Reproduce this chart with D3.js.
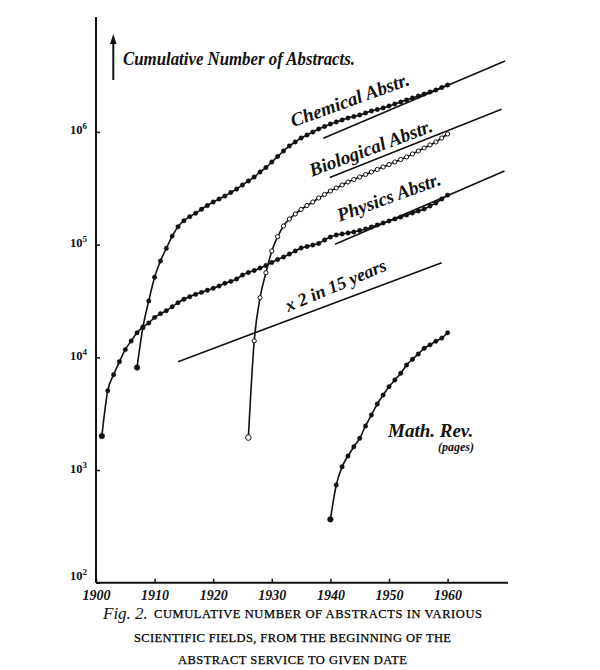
<!DOCTYPE html>
<html><head><meta charset="utf-8">
<script src="https://cdn.jsdelivr.net/npm/d3@7"></script>
<style>body{margin:0;background:#fff} svg{display:block}</style>
</head><body><svg id="c" width="600" height="670"></svg>
<script>
// ---------- DATA ----------
const yearTicks = [1900, 1910, 1920, 1930, 1940, 1950, 1960];
const valueTicks = [1e2, 1e3, 1e4, 1e5, 1e6];
const valueTickExponents = ["2", "3", "4", "5", "6"];

const physicsStart = 1901;
const physicsValues = [2000,5050,7000,9140,11700,13950,16500,18600,20150,22600,
  24400,25900,28100,30500,32700,34500,36200,37700,39300,41000,
  42900,45400,47200,49500,53700,56500,58900,62000,65200,69400,
  73800,77600,82500,87800,93300,96200,99200,102300,110000,116800,
  121700,124200,126800,129400,133400,137500,143300,149300,155500,162000,
  168800,175800,183100,190800,198700,207000,220000,234000,254000,275000];

const chemicalStart = 1907;
const chemicalValues = [8100,18300,31600,51300,71500,92700,119000,144000,163000,177000,
  190000,206000,222000,239000,254000,270000,290000,311000,338000,367000,
  398000,441000,483000,541000,605000,677000,750000,814000,883000,939000,
  998000,1061000,1117000,1175000,1224000,1275000,1328000,1369000,1413000,1472000,
  1533000,1580000,1630000,1698000,1769000,1842000,1919000,1999000,2082000,2169000,
  2260000,2354000,2477000,2608000];

const biologicalStart = 1926;
const biologicalValues = [1940,14000,33800,56300,87800,117500,146300,168800,186900,204900,
  222300,238800,259100,278400,299000,317800,337900,359300,378100,397900,
  418800,440900,464000,488300,513500,540700,569000,598800,636600,676800,
  719700,765200,813700,883000,958200];

const mathStart = 1940;
const mathValues = [365,736,1070,1331,1609,1911,2458,3076,3851,4629,
  5484,6289,7211,8544,9600,10700,12020,12900,13900,14800,16500];

// reference lines (year, value) endpoints
const chemicalRef = [[1938.8, 880000], [1969.8, 4250000]];
const biologicalRef = [[1939.9, 393000], [1969.2, 1590000]];
const physicsRef = [[1940.8, 100600], [1969.7, 450000]];
const doublingRef = [[1914.0, 9140], [1959.0, 69000]];

// ---------- DRAW ----------
const svg = d3.select("#c");
const x = d3.scaleLinear().domain([1900, 1970]).range([96, 506.2]);
const y = d3.scaleLog().domain([1e2, 1e7]).range([582.7, 19.2]);

const serif = "'Liberation Serif', 'DejaVu Serif', serif";

const toSeries = (start, vals) => vals.map((v, i) => ({year: start + i, v}));
const physics = toSeries(physicsStart, physicsValues);
const chemical = toSeries(chemicalStart, chemicalValues);
const biological = toSeries(biologicalStart, biologicalValues);
const maths = toSeries(mathStart, mathValues);

// axes
const yAxis = d3.axisLeft(y).tickValues(valueTicks).tickSizeInner(-4).tickSizeOuter(0).tickPadding(7)
  .tickFormat(() => "");
const gy = svg.append("g").attr("transform", "translate(96,0)").call(yAxis);
gy.select(".domain").remove();
gy.selectAll(".tick line").attr("stroke", "#111").attr("stroke-width", 1.5);
svg.append("line").attr("x1", 96).attr("x2", 96).attr("y1", 17).attr("y2", y(1e2))
  .attr("stroke", "#111").attr("stroke-width", 2);
gy.selectAll(".tick").each(function(d, i) {
  const t = d3.select(this).append("text")
    .attr("x", -9).attr("y", i === 0 ? -3 : 2)
    .attr("text-anchor", "end").attr("fill", "#111")
    .style("font-family", serif).style("font-size", "12.5px").style("font-weight", "bold");
  t.append("tspan").text("10");
  t.append("tspan").attr("dy", -5).style("font-size", "9px").text(valueTickExponents[i]);
});

const xAxis = d3.axisBottom(x).tickValues(yearTicks).tickSizeInner(-4).tickSizeOuter(0).tickPadding(7)
  .tickFormat(d3.format("d"));
const gx = svg.append("g").attr("transform", `translate(0,${y(1e2)})`).call(xAxis);
gx.select(".domain").attr("stroke", "#111").attr("stroke-width", 2)
  .attr("d", `M96,0H508`);
gx.selectAll(".tick line").attr("stroke", "#111").attr("stroke-width", 1.5);
gx.selectAll(".tick text").attr("fill", "#111")
  .style("font-family", serif).style("font-size", "14px").style("font-style", "italic").style("font-weight", "bold");

// reference lines
const refLine = d3.line().x(d => x(d[0])).y(d => y(d[1]));
[chemicalRef, biologicalRef, physicsRef, doublingRef].forEach(r => {
  svg.append("path").attr("d", refLine(r)).attr("fill", "none")
    .attr("stroke", "#111").attr("stroke-width", 1.6);
});

// curves
const curve = d3.line().x(d => x(d.year)).y(d => y(d.v)).curve(d3.curveMonotoneX);
function drawSeries(data, open) {
  svg.append("path").attr("d", curve(data)).attr("fill", "none")
    .attr("stroke", "#111").attr("stroke-width", 1.6);
  svg.append("g").selectAll("circle").data(data).join("circle")
    .attr("cx", d => x(d.year)).attr("cy", d => y(d.v))
    .attr("r", (d, i) => i === 0 ? 2.8 : (open ? 2.1 : 2.2))
    .attr("fill", open ? "#fff" : "#111")
    .attr("stroke", "#111").attr("stroke-width", open ? 1 : 0.5);
}
drawSeries(physics, false);
drawSeries(chemical, false);
drawSeries(biological, true);
drawSeries(maths, false);

// labels
function rotLabel(text, cx, cy, angle, size) {
  svg.append("text").attr("transform", `translate(${cx},${cy}) rotate(${angle})`)
    .attr("text-anchor", "middle").attr("fill", "#111")
    .style("font-family", serif).style("font-style", "italic").style("font-size", size + "px")
    .style("font-weight", "bold")
    .text(text);
}
rotLabel("Chemical Abstr.", 352, 106, -20, 19);
rotLabel("Biological Abstr.", 373, 154, -20.5, 19);
rotLabel("Physics Abstr.", 391, 203, -20, 19);
rotLabel("x 2 in 15 years", 338, 291, -23, 18);

svg.append("text").attr("x", 388).attr("y", 437).attr("fill", "#111")
  .style("font-family", serif).style("font-style", "italic").style("font-size", "19px")
  .style("font-weight", "bold")
  .text("Math. Rev.");
svg.append("text").attr("x", 438).attr("y", 451).attr("fill", "#111")
  .style("font-family", serif).style("font-style", "italic").style("font-size", "12px").style("font-weight", "bold")
  .text("(pages)");

// y title with arrow
svg.append("line").attr("x1", 113.3).attr("x2", 113.3).attr("y1", 80).attr("y2", 40)
  .attr("stroke", "#111").attr("stroke-width", 2);
svg.append("path").attr("d", "M113.3,34 L110,44 L116.6,44 Z").attr("fill", "#111");
svg.append("text").attr("x", 123).attr("y", 65).attr("fill", "#111")
  .style("font-family", serif).style("font-style", "italic").style("font-size", "18px")
  .style("font-weight", "bold")
  .attr("textLength", 232).attr("lengthAdjust", "spacingAndGlyphs")
  .text("Cumulative Number of Abstracts.");

// caption
svg.append("text").attr("x", 103).attr("y", 619).attr("fill", "#111")
  .style("font-family", serif).style("font-style", "italic").style("font-size", "17px")
  .text("Fig. 2.");
const capStyle = t => t.attr("fill", "#000").style("font-family", serif).style("font-size", "12.5px")
  .attr("stroke", "#000").attr("stroke-width", 0.25)
  .attr("lengthAdjust", "spacing");
capStyle(svg.append("text").attr("x", 154).attr("y", 618).attr("textLength", 328)
  .text("CUMULATIVE NUMBER OF ABSTRACTS IN VARIOUS"));
capStyle(svg.append("text").attr("x", 134).attr("y", 642).attr("textLength", 317)
  .text("SCIENTIFIC FIELDS, FROM THE BEGINNING OF THE"));
capStyle(svg.append("text").attr("x", 178).attr("y", 664).attr("textLength", 229)
  .text("ABSTRACT SERVICE TO GIVEN DATE"));
</script>
</body></html>
